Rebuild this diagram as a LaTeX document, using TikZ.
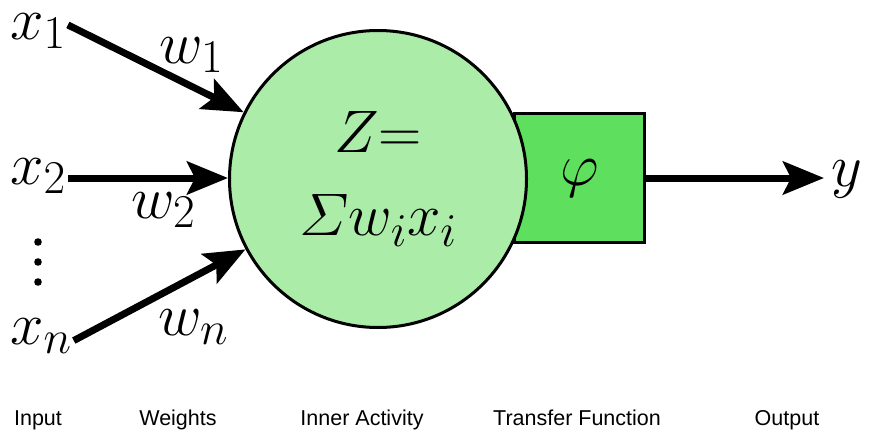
\RequirePackage{fix-cm}
\documentclass[tikz,border=0pt]{standalone}
\usepackage{amsmath}
\usepackage{fontspec}
\setsansfont{Liberation Sans}
\usetikzlibrary{arrows.meta}
\DeclareMathSizes{60}{60}{47}{36}
\definecolor{bodygreen}{RGB}{172,236,169}
\definecolor{actgreen}{RGB}{94,223,94}

\begin{document}
\begin{tikzpicture}[x=1pt, y=-1pt, every node/.style={inner sep=2pt},
    sym/.style={font=\fontsize{60}{83}\selectfont},
    caption/.style={font=\sffamily\fontsize{21.5}{24}\selectfont, anchor=base},
    wire/.style={line width=7pt, -{Stealth[length=41pt, width=33pt, inset=8pt]}}]
  \useasboundingbox (0,0) rectangle (875,431);
  % transfer function box, then the cell body over it
  \node[draw, line width=3pt, fill=actgreen, minimum width=130pt, minimum height=129pt, sym] (act) at (579.5,178) {$\varphi$};
  \node[circle, draw, line width=3pt, fill=bodygreen, minimum size=297pt, align=center, sym] (sum) at (378,179) {$Z{=}$\\$\varSigma w_i x_i$};
  % inputs
  \node[sym, anchor=base west] (x1) at (8,39) {$x_1$};
  \node[sym, anchor=base west] (x2) at (8,184) {$x_2$};
  \node[sym, anchor=base west] (xn) at (8,344) {$x_n$};
  \foreach \k in {242,262,282} \fill (38,\k) circle (3.8pt);
  % weights
  \node[sym, anchor=base west] (w1) at (157,63) {$w_1$};
  \node[sym, anchor=base west] (w2) at (129,218) {$w_2$};
  \node[sym, anchor=base west] (wn) at (156,335) {$w_n$};
  \draw[wire] ([yshift=6pt]x1.east) -- (sum);
  \draw[wire] (x2.east |- act) -- (sum.west |- act);
  \draw[wire] ([yshift=-5pt]xn.east) -- (sum);
  % output
  \node[sym, anchor=base west] (out) at (829,186) {$y$};
  \draw[wire, shorten >=5pt] (act.east) -- (out.west |- act);
  % captions
  \node[caption] (lin) at (38,425) {Input};
  \node[caption] (lw) at (178,425) {Weights};
  \node[caption] (lsum) at (362,425) {Inner Activity};
  \node[caption] (lact) at (577,425) {Transfer Function};
  \node[caption] (lout) at (787,425) {Output};
\end{tikzpicture}
\end{document}
